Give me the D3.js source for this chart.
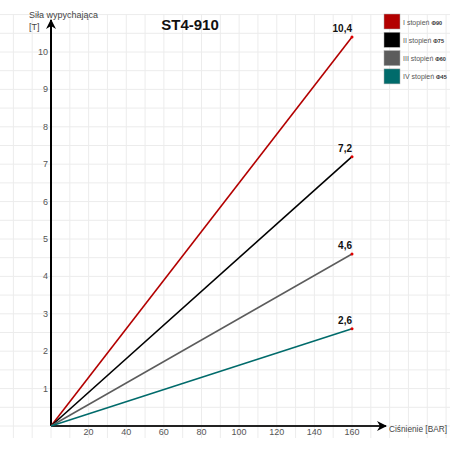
<!DOCTYPE html>
<html lang="pl">
<head>
  <meta charset="UTF-8">
  <title>ST4-910</title>
  <script src="https://d3js.org/d3.v7.min.js"></script>
  <style>
    body { margin: 0; background: #fff; }
    text { font-family: "Liberation Sans", Arial, sans-serif; }
  </style>
</head>
<body>
  <svg width="450" height="450"></svg>
  <script>
    // data
    const stages = ['I stopień', 'II stopień', 'III stopień', 'IV stopień'];
    const diameters = ['Φ90', 'Φ75', 'Φ60', 'Φ45'];
    const maxForce = [10.4, 7.2, 4.6, 2.6];
    const endLabels = ['10,4', '7,2', '4,6', '2,6'];
    const colors = ['#b30000', '#000000', '#5c5c5c', '#006b6b'];
    const xTicks = [20, 40, 60, 80, 100, 120, 140, 160];
    const yTicks = [1, 2, 3, 4, 5, 6, 7, 8, 9, 10];
    const maxPressure = 160;

    const svg = d3.select('svg');

    const x = d3.scaleLinear().domain([0, 160]).range([51, 352]);
    const y = d3.scaleLinear().domain([0, 10]).range([426, 52]);

    // background grid, half a unit
    const grid = svg.append('g').attr('stroke', '#ececec').attr('stroke-width', 1);
    d3.range(-2, 22).forEach(i => {
      const gx = x(i * 10);
      if (gx >= 0 && gx <= 450)
        grid.append('line').attr('x1', gx).attr('x2', gx).attr('y1', 14).attr('y2', 438);
    });
    d3.range(0, 23).forEach(i => {
      const gy = y(i * 0.5);
      if (gy >= 13)
        grid.append('line').attr('x1', 0).attr('x2', 450).attr('y1', gy).attr('y2', gy);
    });

    // arrow marker
    svg.append('defs').append('marker')
      .attr('id', 'arrow')
      .attr('viewBox', '0 0 10 10')
      .attr('refX', 9).attr('refY', 5)
      .attr('markerWidth', 5).attr('markerHeight', 5)
      .attr('orient', 'auto')
      .append('path').attr('d', 'M0,0L10,5L0,10L3,5Z').attr('fill', '#000');

    // axes
    svg.append('line')
      .attr('x1', x(0)).attr('x2', 386).attr('y1', y(0)).attr('y2', y(0))
      .attr('stroke', '#222').attr('stroke-width', 2).attr('marker-end', 'url(#arrow)');
    svg.append('line')
      .attr('x1', x(0)).attr('x2', x(0)).attr('y1', y(0)).attr('y2', 20)
      .attr('stroke', '#000').attr('stroke-width', 2).attr('marker-end', 'url(#arrow)');

    // tick labels
    svg.append('g').selectAll('text').data(xTicks).join('text')
      .attr('x', d => x(d)).attr('y', 435)
      .attr('text-anchor', 'middle').attr('font-size', 9).attr('fill', '#555')
      .text(d => d);
    svg.append('g').selectAll('text').data(yTicks).join('text')
      .attr('x', 48).attr('y', d => y(d) + 3)
      .attr('text-anchor', 'end').attr('font-size', 9).attr('fill', '#555')
      .text(d => d);

    // axis titles
    svg.append('text').attr('x', 389).attr('y', 432)
      .attr('font-size', 8.5).attr('fill', '#444')
      .attr('textLength', 58).attr('lengthAdjust', 'spacingAndGlyphs')
      .text('Ciśnienie [BAR]');
    const yt = svg.append('text').attr('font-size', 9).attr('fill', '#444');
    yt.append('tspan').attr('x', 29).attr('y', 18).text('Siła wypychająca');
    yt.append('tspan').attr('x', 29).attr('y', 30).text('[T]');

    // title
    svg.append('text').attr('x', 190).attr('y', 30)
      .attr('text-anchor', 'middle').attr('font-size', 15).attr('font-weight', 'bold')
      .attr('fill', '#111').text('ST4-910');

    // series lines
    const line = d3.line().x(d => x(d[0])).y(d => y(d[1]));
    stages.forEach((s, i) => {
      svg.append('path')
        .attr('d', line([[0, 0], [maxPressure, maxForce[i]]]))
        .attr('stroke', colors[i]).attr('stroke-width', 1.6).attr('fill', 'none');
      svg.append('circle')
        .attr('cx', x(maxPressure)).attr('cy', y(maxForce[i])).attr('r', 1.5)
        .attr('fill', '#e00000');
      svg.append('text')
        .attr('x', x(maxPressure)).attr('y', y(maxForce[i]) - 5)
        .attr('text-anchor', 'end').attr('font-size', 10).attr('font-weight', 'bold')
        .attr('fill', '#111').text(endLabels[i]);
    });

    // legend
    const lg = svg.append('g');
    stages.forEach((s, i) => {
      const ly = 14 + i * 18.3;
      lg.append('rect').attr('x', 384).attr('y', ly).attr('width', 16).attr('height', 15)
        .attr('fill', colors[i]).attr('stroke', '#aaa').attr('stroke-width', 0.5);
      const t = lg.append('text').attr('x', 403).attr('y', ly + 10.5)
        .attr('font-size', 7).attr('fill', '#555');
      t.append('tspan').text(s + ' ');
      t.append('tspan').attr('font-size', 5.5).attr('font-weight', 'bold').attr('fill', '#333')
        .text(diameters[i]);
    });
  </script>
</body>
</html>
